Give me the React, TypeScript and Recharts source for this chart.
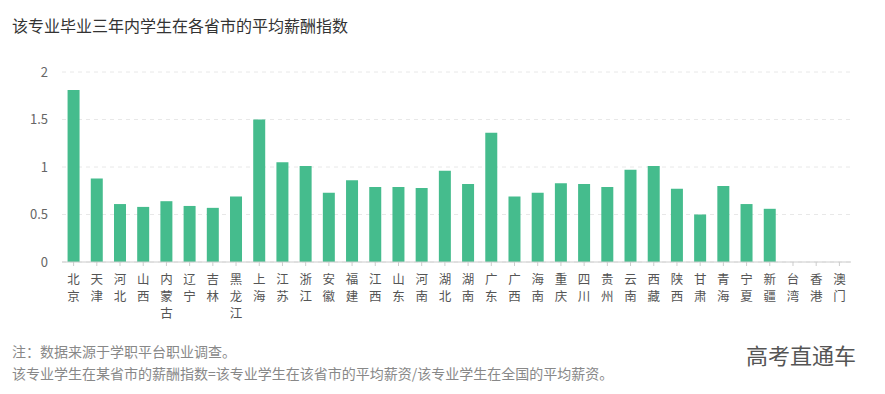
import React from 'react';
import { BarChart, Bar, XAxis, YAxis, CartesianGrid } from 'recharts';

const provinces = [
  '北京', '天津', '河北', '山西', '内蒙古', '辽宁', '吉林', '黑龙江', '上海', '江苏', '浙江', '安徽',
  '福建', '江西', '山东', '河南', '湖北', '湖南', '广东', '广西', '海南', '重庆', '四川', '贵州',
  '云南', '西藏', '陕西', '甘肃', '青海', '宁夏', '新疆', '台湾', '香港', '澳门',
];

const salaryIndex = [
  1.81, 0.88, 0.61, 0.58, 0.64, 0.59, 0.57, 0.69, 1.5, 1.05, 1.01, 0.73,
  0.86, 0.79, 0.79, 0.78, 0.96, 0.82, 1.36, 0.69, 0.73, 0.83, 0.82, 0.79,
  0.97, 1.01, 0.77, 0.5, 0.8, 0.61, 0.56, null, null, null,
];

const yTicks = [0, 0.5, 1, 1.5, 2];

const data = provinces.map((name, i) => ({ name, value: salaryIndex[i] }));

const FONT = '"Noto Sans CJK SC", "Noto Sans", sans-serif';

// province names are written top to bottom, one character per line
const VerticalTick = (props: any) => {
  const { x, y, payload } = props;
  const chars = String(payload.value).split('');
  return (
    <text
      x={x}
      y={y + 16}
      textAnchor="middle"
      fontSize={12.5}
      fill="#555"
      fontFamily={FONT}
    >
      {chars.map((c, i) => (
        <tspan key={i} x={x} dy={i === 0 ? 0 : 17}>
          {c}
        </tspan>
      ))}
    </text>
  );
};

export default function App() {
  return (
    <div
      style={{
        position: 'absolute',
        left: 0,
        top: 0,
        width: 885,
        height: 394,
        background: '#fff',
        fontFamily: FONT,
      }}
    >
      <div style={{ position: 'absolute', left: 12, top: 14, fontSize: 16, color: '#333', lineHeight: '22px' }}>
        该专业毕业三年内学生在各省市的平均薪酬指数
      </div>
      <div style={{ position: 'absolute', left: 0, top: 0 }}>
        <BarChart
          width={885}
          height={340}
          data={data}
          margin={{ top: 72, right: 34, left: 12, bottom: 0 }}
          barCategoryGap="24%"
        >
          <CartesianGrid vertical={false} stroke="#e8e8e8" strokeDasharray="4 4" />
          <XAxis
            dataKey="name"
            interval={0}
            height={78}
            tick={<VerticalTick />}
            tickSize={4}
            tickLine={{ stroke: '#ccc' }}
            axisLine={{ stroke: '#ccc' }}
          />
          <YAxis
            width={50}
            domain={[0, 2]}
            ticks={yTicks}
            axisLine={false}
            tickLine={false}
            tickMargin={8}
            tick={{ fontSize: 13, fill: '#666', fontFamily: FONT }}
          />
          <Bar dataKey="value" fill="#45bc8d" isAnimationActive={false} />
        </BarChart>
      </div>
      <div style={{ position: 'absolute', left: 12, top: 341, fontSize: 14, color: '#888', lineHeight: '20px' }}>
        注：数据来源于学职平台职业调查。
      </div>
      <div style={{ position: 'absolute', left: 12, top: 363, fontSize: 14, color: '#888', lineHeight: '20px' }}>
        该专业学生在某省市的薪酬指数=该专业学生在该省市的平均薪资/该专业学生在全国的平均薪资。
      </div>
      <div style={{ position: 'absolute', left: 746, top: 339, fontSize: 22, color: '#555', lineHeight: '30px' }}>
        高考直通车
      </div>
    </div>
  );
}
